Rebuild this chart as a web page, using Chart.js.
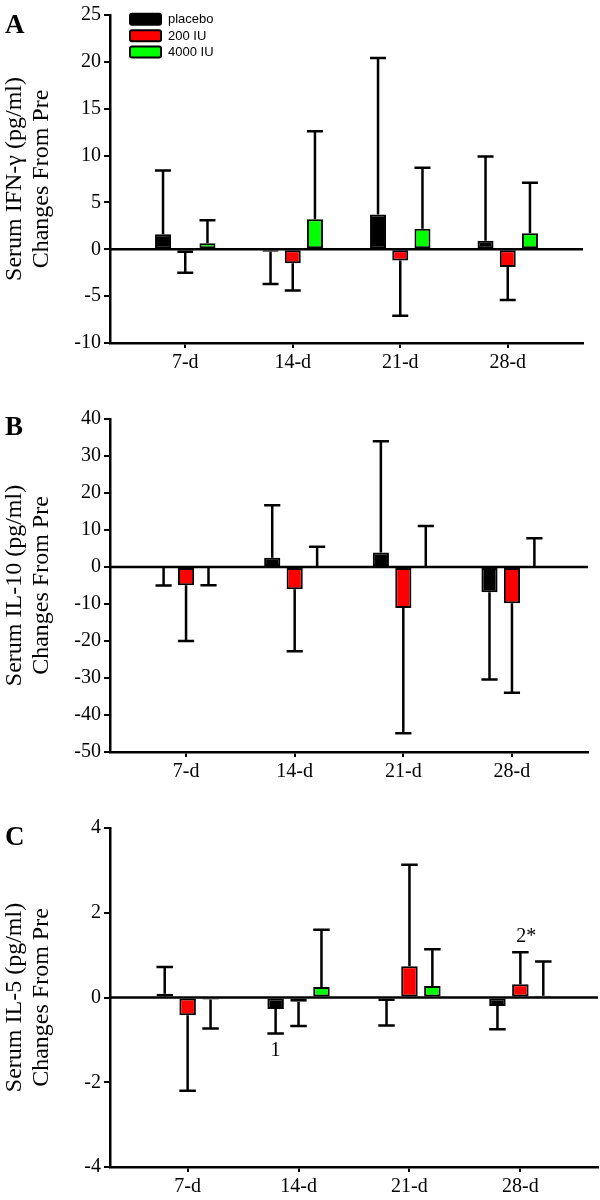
<!DOCTYPE html>
<html>
<head>
<meta charset="utf-8">
<script src="https://cdn.jsdelivr.net/npm/chart.js@4.4.1/dist/chart.umd.min.js"></script>
<style>
  body { margin: 0; background: #fff; }
  #wrap { position: relative; width: 600px; height: 1200px; overflow: hidden; }
  canvas { position: absolute; left: 0; }
</style>
</head>
<body>
<div id="wrap">
  <canvas id="chartA" width="600" height="390" style="top:0px"></canvas>
  <canvas id="chartB" width="600" height="415" style="top:385px"></canvas>
  <canvas id="chartC" width="600" height="425" style="top:775px"></canvas>
</div>
<script>
// categories and groups
const days = ['7-d', '14-d', '21-d', '28-d'];
const groups = ['placebo', '200 IU', '4000 IU'];
const groupColors = ['#000000', '#ff0000', '#00ff00'];

// A: serum IFN-gamma, change from pre (mean and one-sided error)
const ifnPlacebo = [1.6, -0.25, 3.7, 0.9];
const ifnPlaceboErr = [6.8, 3.45, 16.7, 9.0];
const ifn200 = [-0.4, -1.5, -1.2, -1.9];
const ifn200Err = [2.1, 2.9, 5.9, 3.5];
const ifn4000 = [0.65, 3.2, 2.2, 1.7];
const ifn4000Err = [2.45, 9.4, 6.5, 5.4];

// B: serum IL-10
const il10Placebo = [-0.2, 2.5, 3.9, -6.8];
const il10PlaceboErr = [4.8, 14.2, 30.1, 23.6];
const il10200 = [-4.9, -6.0, -11.1, -9.8];
const il10200Err = [15.1, 16.8, 33.8, 24.2];
const il104000 = [-0.1, 0.3, 0.3, 0.3];
const il104000Err = [4.8, 5.2, 10.8, 7.5];

// C: serum IL-5
const il5Placebo = [0.09, -0.27, -0.08, -0.2];
const il5PlaceboErr = [0.63, 0.58, 0.58, 0.55];
const il5200 = [-0.42, -0.1, 0.74, 0.31];
const il5200Err = [1.78, 0.57, 2.39, 0.76];
const il54000 = [-0.05, 0.25, 0.27, 0.04];
const il54000Err = [0.68, 1.35, 0.87, 0.81];

// significance marks in C: [group index, day index, text]
const il5Notes = [[0, 1, '1'], [1, 3, '2*']];

const serif = '"Liberation Serif", "Times New Roman", serif';

// zero line, error bars, legend, panel letter, notes
const decoPlugin = {
  id: 'deco',
  beforeDatasetsDraw(chart) {
    const { ctx, chartArea } = chart;
    const y0 = chart.scales.y.getPixelForValue(0);
    ctx.save();
    ctx.strokeStyle = '#000';
    ctx.lineWidth = 2.5;
    ctx.beginPath();
    ctx.moveTo(chartArea.left, y0);
    ctx.lineTo(chartArea.right, y0);
    ctx.stroke();
    ctx.restore();
  },
  afterDatasetsDraw(chart, args, opts) {
    const { ctx } = chart;
    const y = chart.scales.y;
    ctx.save();
    ctx.strokeStyle = '#000';
    ctx.lineWidth = 2.5;
    chart.data.datasets.forEach((ds, di) => {
      const meta = chart.getDatasetMeta(di);
      meta.data.forEach((bar, i) => {
        const v = ds.data[i].y;
        const end = v >= 0 ? v + ds.errors[i] : v - ds.errors[i];
        const yv = y.getPixelForValue(v);
        const ye = y.getPixelForValue(end);
        const half = bar.width / 2;
        ctx.beginPath();
        ctx.moveTo(bar.x, yv);
        ctx.lineTo(bar.x, ye);
        ctx.moveTo(bar.x - half, ye);
        ctx.lineTo(bar.x + half, ye);
        ctx.stroke();
      });
    });

    // notes above / below the error caps
    ctx.fillStyle = '#000';
    ctx.font = '20px ' + serif;
    ctx.textAlign = 'center';
    ctx.textBaseline = 'middle';
    (opts.notes || []).forEach(([di, i, txt]) => {
      const ds = chart.data.datasets[di];
      const bar = chart.getDatasetMeta(di).data[i];
      const v = ds.data[i].y;
      const end = v >= 0 ? v + ds.errors[i] : v - ds.errors[i];
      const ye = y.getPixelForValue(end);
      const dx = txt.length > 1 ? 6 : 0;
      ctx.fillText(txt, bar.x + dx, v >= 0 ? ye - 15 : ye + 17);
    });
    ctx.restore();
  },
  afterDraw(chart, args, opts) {
    const { ctx } = chart;
    ctx.save();
    ctx.fillStyle = '#000';
    ctx.font = 'bold 27px ' + serif;
    ctx.textAlign = 'left';
    ctx.textBaseline = 'alphabetic';
    ctx.fillText(opts.letter, 5, opts.letterY);

    if (opts.legend) {
      ctx.font = '13px "Liberation Sans", Arial, sans-serif';
      ctx.textBaseline = 'middle';
      chart.data.datasets.forEach((ds, i) => {
        const cy = 19.3 + i * 16.4;
        ctx.beginPath();
        ctx.roundRect(130, cy - 5.5, 31, 11, 2);
        ctx.fillStyle = ds.backgroundColor;
        ctx.fill();
        ctx.lineWidth = 2;
        ctx.strokeStyle = '#000';
        ctx.stroke();
        ctx.fillStyle = '#000';
        ctx.fillText(ds.label, 168, cy + 0.5);
      });
    }
    ctx.restore();
  }
};

function makePanel(id, letter, letterY, title, yMin, yMax, step, series, errs, pad, legend, notes) {
  const datasets = groups.map((g, gi) => ({
    label: g,
    data: days.map((d, i) => ({ x: i + 1, y: series[gi][i] })),
    errors: errs[gi],
    backgroundColor: groupColors[gi],
    borderColor: '#000',
    borderWidth: 2,
    borderSkipped: false,
    categoryPercentage: 0.62,
    barPercentage: 0.72
  }));

  new Chart(document.getElementById(id), {
    type: 'bar',
    data: { datasets },
    plugins: [decoPlugin],
    options: {
      responsive: false,
      devicePixelRatio: 1,
      animation: false,
      layout: { padding: pad },
      plugins: {
        legend: { display: false },
        tooltip: { enabled: false },
        deco: { letter, letterY, legend, notes }
      },
      scales: {
        x: {
          type: 'linear',
          min: 0.3,
          max: 4.7,
          offset: false,
          afterBuildTicks(scale) {
            scale.ticks = days.map((d, i) => ({ value: i + 1 }));
          },
          afterFit(scale) { scale.height = 33; },
          ticks: {
            callback: v => days[v - 1],
            color: '#000',
            font: { family: serif, size: 20 },
            maxRotation: 0,
            autoSkip: false,
            padding: 3
          },
          grid: { drawOnChartArea: false, offset: false, color: '#000', lineWidth: 2, tickLength: 5 },
          border: { display: true, color: '#000', width: 2.5 }
        },
        y: {
          min: yMin,
          max: yMax,
          afterFit(scale) { scale.width = 110; },
          ticks: {
            stepSize: step,
            color: '#000',
            font: { family: serif, size: 20 },
            padding: 3
          },
          grid: { drawOnChartArea: false, color: '#000', lineWidth: 2, tickLength: 6 },
          border: { display: true, color: '#000', width: 2.5 },
          title: {
            display: true,
            text: title,
            color: '#000',
            font: { family: serif, size: 24, lineHeight: 1.12 },
            padding: { top: 1.5, bottom: 0 }
          }
        }
      }
    }
  });
}

makePanel('chartA', 'A', 33, ['Serum IFN-\u03b3 (pg/ml)', 'Changes From Pre'], -10, 25, 5,
  [ifnPlacebo, ifn200, ifn4000], [ifnPlaceboErr, ifn200Err, ifn4000Err],
  { top: 15, right: 17, bottom: 14, left: 0 }, true, []);

makePanel('chartB', 'B', 50, ['Serum IL-10 (pg/ml)', 'Changes From Pre'], -50, 40, 10,
  [il10Placebo, il10200, il104000], [il10PlaceboErr, il10200Err, il104000Err],
  { top: 34, right: 12, bottom: 15, left: 0 }, false, []);

makePanel('chartC', 'C', 70, ['Serum IL-5 (pg/ml)', 'Changes From Pre'], -4, 4, 2,
  [il5Placebo, il5200, il54000], [il5PlaceboErr, il5200Err, il54000Err],
  { top: 53, right: 2, bottom: 0, left: 0 }, false, il5Notes);
</script>
</body>
</html>
